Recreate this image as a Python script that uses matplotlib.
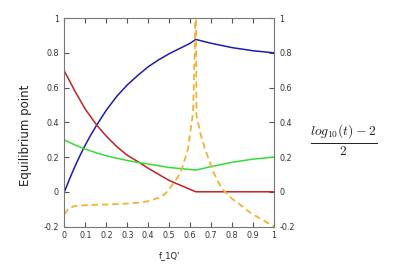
import matplotlib
matplotlib.use("Agg")
import matplotlib.pyplot as plt

plt.rcParams['mathtext.fontset'] = 'cm'

# Data
blue_x = [0, 0.025, 0.05, 0.075, 0.1, 0.125, 0.154, 0.2, 0.25, 0.3, 0.35, 0.4, 0.45, 0.5, 0.55, 0.6, 0.627, 0.7, 0.8, 0.9, 1.0]
blue_y = [0, 0.075, 0.145, 0.21, 0.27, 0.325, 0.384, 0.47, 0.55, 0.615, 0.67, 0.72, 0.76, 0.795, 0.825, 0.855, 0.877, 0.855, 0.83, 0.812, 0.80]

red_x = [0, 0.05, 0.1, 0.154, 0.2, 0.25, 0.3, 0.36, 0.4, 0.45, 0.5, 0.627, 0.7, 0.8, 0.9, 1.0]
red_y = [0.695, 0.58, 0.475, 0.384, 0.32, 0.26, 0.21, 0.167, 0.135, 0.1, 0.065, 0.0, 0.0, 0.0, 0.0, 0.0]

green_x = [0, 0.05, 0.09, 0.15, 0.2, 0.3, 0.36, 0.4, 0.5, 0.627, 0.7, 0.8, 0.9, 1.0]
green_y = [0.298, 0.27, 0.25, 0.225, 0.207, 0.18, 0.167, 0.16, 0.14, 0.125, 0.145, 0.17, 0.188, 0.20]

orange_x = [0, 0.02, 0.05, 0.1, 0.2, 0.3, 0.35, 0.4, 0.45, 0.48, 0.5, 0.55, 0.567, 0.59, 0.614, 0.622, 0.627,
            0.630, 0.65, 0.67, 0.71, 0.75, 0.8, 0.85, 0.892, 0.95, 1.0]
orange_y = [-0.13, -0.095, -0.082, -0.077, -0.073, -0.068, -0.063, -0.054, -0.035, -0.012, 0.015, 0.1, 0.154, 0.25,
            0.46, 0.83, 1.3, 0.44, 0.33, 0.25, 0.115, 0.02, -0.04, -0.085, -0.125, -0.165, -0.2]

xticks = [0, 0.1, 0.2, 0.3, 0.4, 0.5, 0.6, 0.7, 0.8, 0.9, 1]
xticklabels = ['0', '0.1', '0.2', '0.3', '0.4', '0.5', '0.6', '0.7', '0.8', '0.9', '1']
yticks = [-0.2, 0, 0.2, 0.4, 0.6, 0.8, 1]
yticklabels = ['-0.2', '0', '0.2', '0.4', '0.6', '0.8', '1']

fig = plt.figure(figsize=(4, 2.7), dpi=100)
ax = fig.add_axes([0.161, 0.161, 0.524, 0.772])

ax.plot(blue_x, blue_y, color='#1c1cb0', lw=1.1)
ax.plot(red_x, red_y, color='#c42222', lw=1.1)
ax.plot(green_x, green_y, color='#33dd33', lw=1.1)
ax.plot(orange_x, orange_y, color='#f2b234', lw=1.3, ls=(0, (3.5, 2.2)))

ax.set_xlim(0, 1)
ax.set_ylim(-0.2, 1)
ax.set_xticks(xticks)
ax.set_xticklabels(xticklabels)
ax.set_yticks(yticks)
ax.set_yticklabels(yticklabels)

ax.tick_params(direction='in', length=3.5, width=0.8, color='#555555',
               top=True, right=True, labelright=True,
               labelsize=5.8, labelcolor='#333333', pad=3.5)
ax.yaxis.set_tick_params(pad=4)
for s in ax.spines.values():
    s.set_color('#777777')
    s.set_linewidth(0.8)

ax.set_ylabel('Equilibrium point', fontsize=8.5, color='#222222', labelpad=10)
ax.yaxis.set_label_coords(-0.155, 0.44)
ax.set_xlabel("f_1Q'", fontsize=6, color='#222222', labelpad=8)

fig.text(0.86, 0.48, r'$\frac{log_{10}(t)-2}{2}$', fontsize=14, ha='center', va='center', color='#222222')

fig.savefig('out.png', dpi=100)
